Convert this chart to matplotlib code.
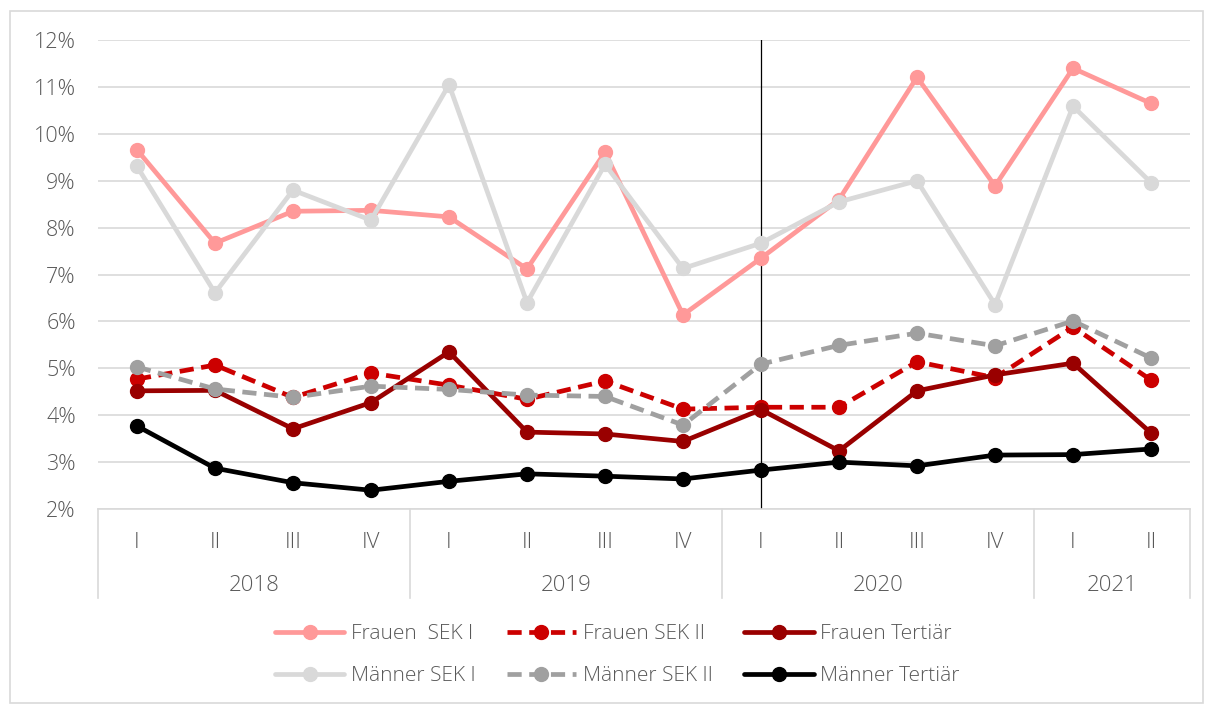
import matplotlib
matplotlib.use("Agg")
import matplotlib.pyplot as plt
from matplotlib.patches import Rectangle
from matplotlib.lines import Line2D
import matplotlib.transforms as mtransforms
from matplotlib.ticker import FuncFormatter

# ------------------------------
#    DATA
# ------------------------------
quarters = ["I", "II", "III", "IV", "I", "II", "III", "IV", "I", "II", "III", "IV", "I", "II"]
years = ["2018", "2019", "2020", "2021"]
year_counts = [4, 4, 4, 2]

frauen_sek1 = [9.66, 7.67, 8.35, 8.37, 8.23, 7.12, 9.61, 6.14, 7.35, 8.60, 11.21, 8.89, 11.40, 10.65]
frauen_sek2 = [4.77, 5.07, 4.38, 4.90, 4.64, 4.34, 4.73, 4.13, 4.17, 4.17, 5.14, 4.80, 5.88, 4.75]
frauen_tert = [4.52, 4.53, 3.71, 4.27, 5.35, 3.64, 3.60, 3.44, 4.12, 3.24, 4.52, 4.86, 5.11, 3.62]
maenner_sek1 = [9.31, 6.61, 8.80, 8.16, 11.05, 6.40, 9.35, 7.13, 7.67, 8.55, 9.00, 6.36, 10.59, 8.96]
maenner_sek2 = [5.03, 4.56, 4.38, 4.62, 4.55, 4.43, 4.40, 3.79, 5.09, 5.49, 5.75, 5.48, 6.01, 5.22]
maenner_tert = [3.77, 2.87, 2.56, 2.40, 2.59, 2.75, 2.70, 2.64, 2.83, 3.00, 2.92, 3.15, 3.16, 3.28]

series = [
    ("Frauen  SEK I", frauen_sek1, "#FF9999", "-"),
    ("Frauen SEK II", frauen_sek2, "#CC0000", "--"),
    ("Frauen Tertiär", frauen_tert, "#990000", "-"),
    ("Männer SEK I", maenner_sek1, "#D9D9D9", "-"),
    ("Männer SEK II", maenner_sek2, "#A0A0A0", "--"),
    ("Männer Tertiär", maenner_tert, "#000000", "-"),
]

plt.rcParams['font.family'] = ['Open Sans', 'DejaVu Sans']
plt.rcParams['font.weight'] = 'light'
text_color = "#595959"
grid_color = "#D9D9D9"

fig = plt.figure(figsize=(12.05, 7.04), dpi=100)
ax = fig.add_axes([0.0813, 0.277, 0.9063, 0.666])

# outer frame of the chart area
fig.patches.append(Rectangle((0.008, 0.002), 0.99, 0.982, transform=fig.transFigure,
                             fill=False, edgecolor=grid_color, linewidth=1.2))

x = list(range(len(quarters)))
handles = []
for name, vals, color, ls in series:
    h, = ax.plot(x, vals, color=color, linestyle=ls, linewidth=3.4,
                 marker="o", markersize=10, label=name,
                 dashes=(3, 1.6) if ls == "--" else (None, None), solid_capstyle="round")
    handles.append(h)

ax.axvline(8, color="black", linewidth=0.9, zorder=1)

ax.set_xlim(-0.5, len(quarters) - 0.5)
ax.set_ylim(2, 12)
ax.set_yticks(range(2, 13))
ax.yaxis.set_major_formatter(FuncFormatter(lambda v, p: f"{v:.0f}%"))
ax.grid(axis="y", color=grid_color, linewidth=1.2)
ax.set_axisbelow(True)
for s in ["top", "right", "left"]:
    ax.spines[s].set_visible(False)
ax.spines["bottom"].set_color(grid_color)
ax.spines["bottom"].set_linewidth(1.2)
ax.tick_params(axis="y", length=0, pad=16, labelsize=15.5, labelcolor=text_color)
ax.set_xticks([])

# two-level category axis
trans = mtransforms.blended_transform_factory(ax.transData, ax.transAxes)
for i, q in enumerate(quarters):
    ax.text(i, -0.071, q, transform=trans, ha="center", va="center",
            fontsize=16, color=text_color)
start = -0.5
bounds = [start]
for yr, n in zip(years, year_counts):
    ax.text(start + n / 2, -0.164, yr, transform=trans, ha="center", va="center",
            fontsize=16, color=text_color)
    start += n
    bounds.append(start)
for b in bounds:
    ax.add_line(Line2D([b, b], [0, -0.19], transform=trans, color=grid_color,
                       linewidth=1.2, clip_on=False))

order = [0, 3, 1, 4, 2, 5]
fig.legend([handles[i] for i in order], [series[i][0] for i in order],
           loc="center", bbox_to_anchor=(0.512, 0.069), ncol=3, frameon=False,
           fontsize=15, labelcolor=text_color, handlelength=3.35,
           handletextpad=0.3, columnspacing=1.5, labelspacing=1.05)

fig.savefig("out.png", dpi=100)
